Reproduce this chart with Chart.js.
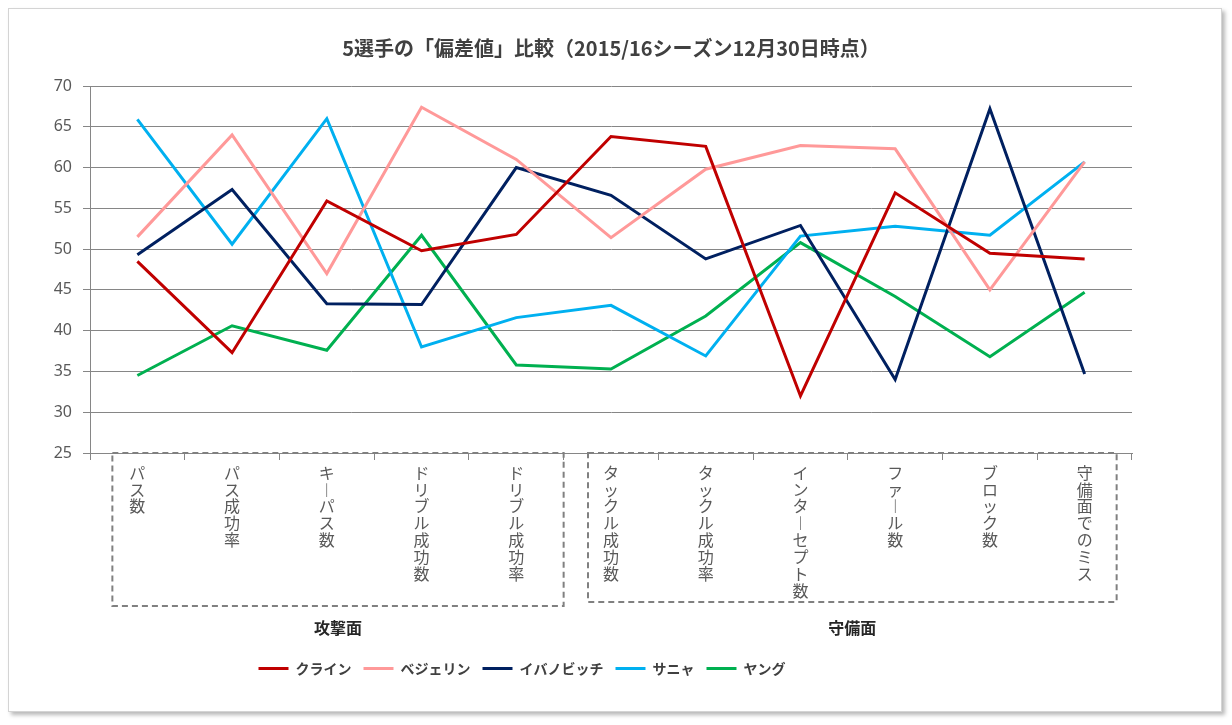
<!DOCTYPE html>
<html lang="ja">
<head>
<meta charset="utf-8">
<title>5選手の「偏差値」比較</title>
<script src="https://cdn.jsdelivr.net/npm/chart.js@4.4.1/dist/chart.umd.min.js"></script>
<style>
  html, body { margin: 0; padding: 0; background: #fff; }
  #card {
    position: absolute; left: 8px; top: 8px; width: 1212px; height: 702px;
    border: 1px solid #d4d4d4; background: #fff;
    box-shadow: 3px 3px 4px rgba(0, 0, 0, 0.28);
  }
  #wrap { position: absolute; left: 0; top: 0; width: 1232px; height: 725px; }
</style>
</head>
<body>
<div id="card"></div>
<div id="wrap"><canvas id="chart"></canvas></div>
<script>
// categories and series
const categories = ["パス数", "パス成功率", "キーパス数", "ドリブル成功数", "ドリブル成功率",
  "タックル成功数", "タックル成功率", "インターセプト数", "ファール数", "ブロック数", "守備面でのミス"];
const players = ["クライン", "ベジェリン", "イバノビッチ", "サニャ", "ヤング"];
const klein    = [48.5, 37.3, 55.9, 49.8, 51.8, 63.8, 62.6, 32.0, 56.9, 49.5, 48.8];
const bejelin  = [51.5, 64.0, 47.0, 67.4, 61.0, 51.4, 59.8, 62.7, 62.3, 45.0, 60.7];
const ivanovic = [49.3, 57.3, 43.3, 43.2, 60.0, 56.6, 48.8, 52.9, 34.0, 67.2, 34.7];
const sania    = [65.9, 50.6, 66.0, 38.0, 41.6, 43.1, 36.9, 51.6, 52.8, 51.7, 60.7];
const yang     = [34.5, 40.6, 37.6, 51.7, 35.8, 35.3, 41.8, 50.8, 44.2, 36.8, 44.7];
const yMin = 25, yMax = 70, yStep = 5;

// category groups under the axis
const groupNames = ["攻撃面", "守備面"];
const groupFirst = [0, 5];
const groupLast = [4, 10];

const colors = ["#C00000", "#FF9999", "#002060", "#00B0F0", "#00B050"];
const series = [klein, bejelin, ivanovic, sania, yang];

Chart.defaults.font.family = "'Noto Sans CJK JP', 'Noto Sans', sans-serif";

// dashed boxes round the category groups + group names
const groupBoxes = {
  id: "groupBoxes",
  afterLayout(chart) {
    // legend sits left of centre in the original
    const lg = chart.legend;
    const dx = 522 - (lg.left + lg.right) / 2;
    lg.left += dx;
    lg.right += dx;
  },
  afterDraw(chart) {
    const ctx = chart.ctx;
    const x = chart.scales.x;
    const half = (x.getPixelForValue(1) - x.getPixelForValue(0)) / 2;
    const top = chart.chartArea.bottom;
    const padL = [25, 23];
    const padR = [half, 32];
    const bottoms = [606, 602];
    ctx.save();
    for (let i = 0; i < groupNames.length; i++) {
      const l = x.getPixelForValue(groupFirst[i]) - padL[i];
      const r = x.getPixelForValue(groupLast[i]) + padR[i];
      ctx.strokeStyle = "#808080";
      ctx.lineWidth = 2;
      ctx.setLineDash([6, 4]);
      ctx.strokeRect(l, top, r - l, bottoms[i] - top);
      ctx.setLineDash([]);
      ctx.fillStyle = "#262626";
      ctx.font = "bold 16px 'Noto Sans CJK JP', sans-serif";
      ctx.textAlign = "center";
      ctx.textBaseline = "middle";
      ctx.fillText(groupNames[i], (l + r) / 2, 628);
    }
    ctx.restore();
  }
};

const ctx = document.getElementById("chart").getContext("2d");
const chart = new Chart(ctx, {
  type: "line",
  data: {
    labels: categories,
    datasets: players.map((name, i) => ({
      label: name,
      data: series[i],
      borderColor: colors[i],
      backgroundColor: colors[i],
      borderWidth: 3,
      pointRadius: 0,
      tension: 0,
      fill: false
    }))
  },
  options: {
    responsive: true,
    maintainAspectRatio: false,
    animation: false,
    layout: { padding: { left: 0, right: 100, top: 0, bottom: 39.5 } },
    scales: {
      x: {
        offset: true,
        grid: { offset: true, drawOnChartArea: false, tickLength: 7, color: "#868686" },
        border: { color: "#868686" },
        ticks: {
          autoSkip: false,
          maxRotation: 0,
          minRotation: 0,
          padding: 4,
          color: "#595959",
          font: { size: 16, lineHeight: 1.06 },
          // stack the characters to read top-to-bottom
          callback: function (value) {
            return Array.from(this.getLabelForValue(value)).map(c => (c == "ー" ? "︱" : c));
          }
        },
        afterFit: function (scale) { scale.height = 196.5; }
      },
      y: {
        min: yMin,
        max: yMax,
        grid: { color: "#868686", tickLength: 7 },
        border: { color: "#868686" },
        ticks: { stepSize: yStep, padding: 11, color: "#595959", font: { family: "'Noto Sans', sans-serif", size: 16 } },
        afterFit: function (scale) { scale.width = 90; }
      }
    },
    plugins: {
      title: {
        display: true,
        fullSize: false,
        text: "5選手の「偏差値」比較（2015/16シーズン12月30日時点）",
        color: "#404040",
        font: { size: 20, weight: "bold" },
        padding: { top: 36, bottom: 26 }
      },
      legend: {
        position: "bottom",
        labels: {
          usePointStyle: true,
          pointStyle: "line",
          pointStyleWidth: 30,
          padding: 12,
          color: "#404040",
          font: { size: 14, weight: "bold" }
        }
      },
      tooltip: { enabled: false }
    }
  },
  plugins: [groupBoxes]
});
</script>
</body>
</html>
